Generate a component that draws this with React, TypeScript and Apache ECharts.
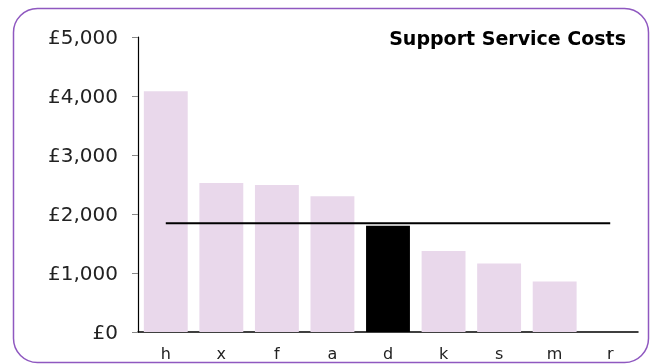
import React, { useEffect, useRef } from "react";
import * as echarts from "echarts";

const categories = ["h", "x", "f", "a", "d", "k", "s", "m", "r"];
const costs = [4080, 2525, 2490, 2300, 1800, 1375, 1160, 855, 0];
const averageLine = [1842, 1842, 1842, 1842, 1842, 1842, 1842, 1842, 1842];
const highlighted = "d";
const yTicks = [0, 1000, 2000, 3000, 4000, 5000];

export default function App() {
  const ref = useRef<HTMLDivElement>(null);
  useEffect(() => {
    if (!ref.current) return;
    const chart = echarts.init(ref.current, null, { renderer: "svg" });
    chart.setOption({
      animation: false,
      textStyle: { fontFamily: "DejaVu Sans" },
      title: {
        text: "Support Service Costs",
        right: 21,
        top: 23,
        textStyle: { fontSize: 19, fontWeight: "bold", color: "#000", fontFamily: "DejaVu Sans" },
      },
      graphic: [
        {
          type: "rect",
          shape: { x: 13.5, y: 8.5, width: 635, height: 354, r: 24 },
          style: { fill: "none", stroke: "#8f58c0", lineWidth: 1.5 },
          silent: true,
        },
      ],
      grid: { left: 138, right: 14, top: 37, bottom: 32, containLabel: false },
      xAxis: {
        type: "category",
        data: categories,
        axisLine: { show: true, lineStyle: { color: "#000", width: 1.5 } },
        axisTick: { show: false },
        axisLabel: { fontSize: 16, color: "#222", margin: 13 },
      },
      yAxis: {
        type: "value",
        min: yTicks[0],
        max: yTicks[yTicks.length - 1],
        interval: 1000,
        axisLine: { show: true, lineStyle: { color: "#000", width: 1.2 } },
        axisTick: { show: true, inside: false, length: 6, lineStyle: { color: "#888" } },
        splitLine: { show: false },
        axisLabel: {
          fontSize: 20,
          color: "#222",
          margin: 20,
          formatter: (v: number) => "£" + v.toLocaleString("en-GB"),
        },
      },
      series: [
        {
          type: "bar",
          data: costs.map((v, i) => ({
            value: v,
            itemStyle: { color: categories[i] === highlighted ? "#000" : "#e9d8eb" },
          })),
          barCategoryGap: "21%",
        },
        {
          type: "line",
          data: averageLine,
          symbol: "none",
          lineStyle: { color: "#000", width: 2 },
          z: 5,
        },
      ],
    });
    return () => chart.dispose();
  }, []);
  return (
    <div
      ref={ref}
      style={{ position: "fixed", left: 0, top: 0, width: 652, height: 364 }}
    />
  );
}
